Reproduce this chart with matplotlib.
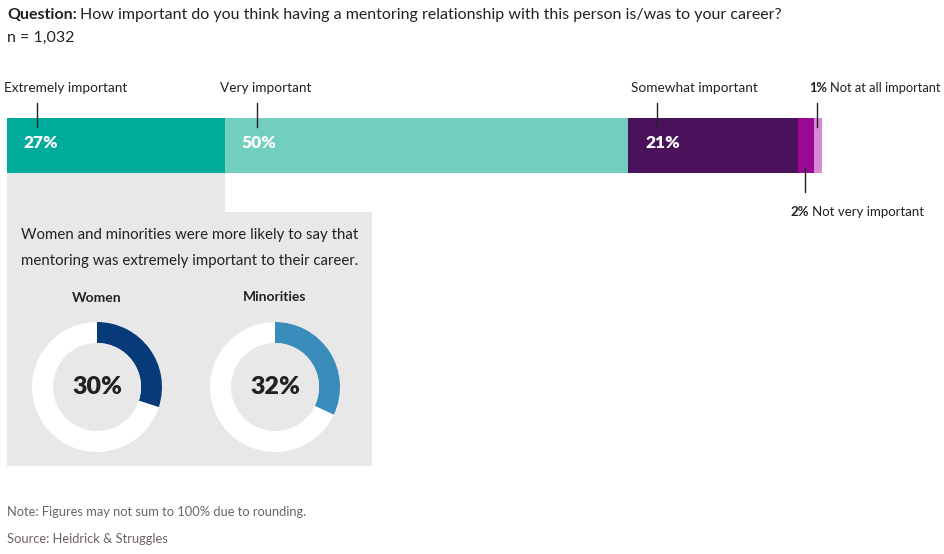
#______importing libraries__________
import numpy as np
import matplotlib
matplotlib.use("Agg")
import matplotlib.pyplot as plt
from matplotlib.patches import Wedge, Rectangle, Circle

#______data__________
categories = ["Extremely important", "Very important", "Somewhat important",
              "Not very important", "Not at all important"]
shares = [27, 50, 21, 2, 1]
bar_colors = ["#00AB9C", "#72CFBE", "#4B125C", "#9C0896", "#D48AD4"]

groups = ["Women", "Minorities"]
group_shares = [30, 32]
group_colors = ["#063A79", "#3A8DBB"]

question = "How important do you think having a mentoring relationship with this person is/was to your career?"
sample = "n = 1,032"
panel_text = "Women and minorities were more likely to say that\nmentoring was extremely important to their career."
note = "Note: Figures may not sum to 100% due to rounding."
source = "Source: Heidrick & Struggles"

#______figure in pixel coordinates__________
plt.rcParams["font.family"] = ["Lato", "DejaVu Sans"]
W, H = 945, 554
fig = plt.figure(figsize=(W / 100, H / 100), dpi=100)
ax = fig.add_axes([0, 0, 1, 1])
ax.set_xlim(0, W)
ax.set_ylim(H, 0)
ax.axis("off")
renderer = fig.canvas.get_renderer()

txt = "#222222"
grey = "#E8E8E8"


def right_of(t, gap=3):
    # x position (pixels) just after a drawn text
    return t.get_window_extent(renderer).x1 + gap


#______header__________
t = ax.text(7, 15, "Question:", fontsize=11.5, fontweight="bold", color=txt, va="center")
ax.text(right_of(t), 15, question, fontsize=11.5, color=txt, va="center")
ax.text(7, 38, sample, fontsize=11.5, color=txt, va="center")

#______stacked bar__________
x0, px = 7, 8.07  # left edge, pixels per percent
lefts = x0 + np.concatenate([[0], np.cumsum(shares)[:-1]]) * px
widths = np.array(shares) * px
ax.barh(145, widths, left=lefts, height=55, color=bar_colors, edgecolor="none")

# grey panel below the first segment
ax.add_patch(Rectangle((x0, 173), widths[0], 40, color=grey, lw=0, zorder=0))
ax.add_patch(Rectangle((x0, 212), 365, 254, color=grey, lw=0, zorder=0))

# value labels inside the three big segments
for i in range(3):
    ax.text(lefts[i] + 17, 143, f"{shares[i]}%", fontsize=12.5, fontweight="heavy",
            color="white", va="center")

# category labels with leader ticks
fs = 9.8
ax.text(4, 88, categories[0], fontsize=fs, color=txt, va="center")
ax.plot([37, 37], [103, 127], color=txt, lw=1)
ax.text(220, 88, categories[1], fontsize=fs, color=txt, va="center")
ax.plot([257, 257], [103, 127], color=txt, lw=1)
ax.text(631, 88, categories[2], fontsize=fs, color=txt, va="center")
ax.plot([657, 657], [103, 127], color=txt, lw=1)

t = ax.text(809, 88, f"{shares[4]}%", fontsize=9.3, fontweight="bold", color=txt, va="center")
ax.text(right_of(t), 88, categories[4], fontsize=9.3, color=txt, va="center")
ax.plot([817, 817], [103, 127], color=txt, lw=1)

t = ax.text(790, 212, f"{shares[3]}%", fontsize=9.5, fontweight="bold", color=txt, va="center")
ax.text(right_of(t), 212, categories[3], fontsize=9.5, color=txt, va="center")
ax.plot([805, 805], [168, 192], color=txt, lw=1)

#______panel text and donuts__________
ax.text(190, 248, panel_text, fontsize=10.8, color=txt, ha="center", va="center",
        linespacing=2.0)

centers = [(97, 387), (275, 387)]
label_y = [298, 297]
R, ring = 65, 21
for (cx, cy), g, s, c, ly in zip(centers, groups, group_shares, group_colors, label_y):
    ax.add_patch(Circle((cx, cy), R, color="white", lw=0))
    # clockwise from 12 o'clock (y axis is inverted)
    ax.add_patch(Wedge((cx, cy), R, 270, 270 + s * 3.6, width=ring, color=c, lw=0))
    ax.add_patch(Circle((cx, cy), R - ring, color=grey, lw=0))
    ax.text(cx, cy, f"{s}%", fontsize=18, fontweight="heavy", color=txt,
            ha="center", va="center")
    ax.text(cx, ly, g, fontsize=10, fontweight="bold", color=txt,
            ha="center", va="center")

#______footer__________
foot = "#6D6366"
ax.text(7, 512, note, fontsize=9.3, color=foot, va="center")
ax.text(7, 539, source, fontsize=9.3, color=foot, va="center")

fig.savefig("out.png", dpi=100)
